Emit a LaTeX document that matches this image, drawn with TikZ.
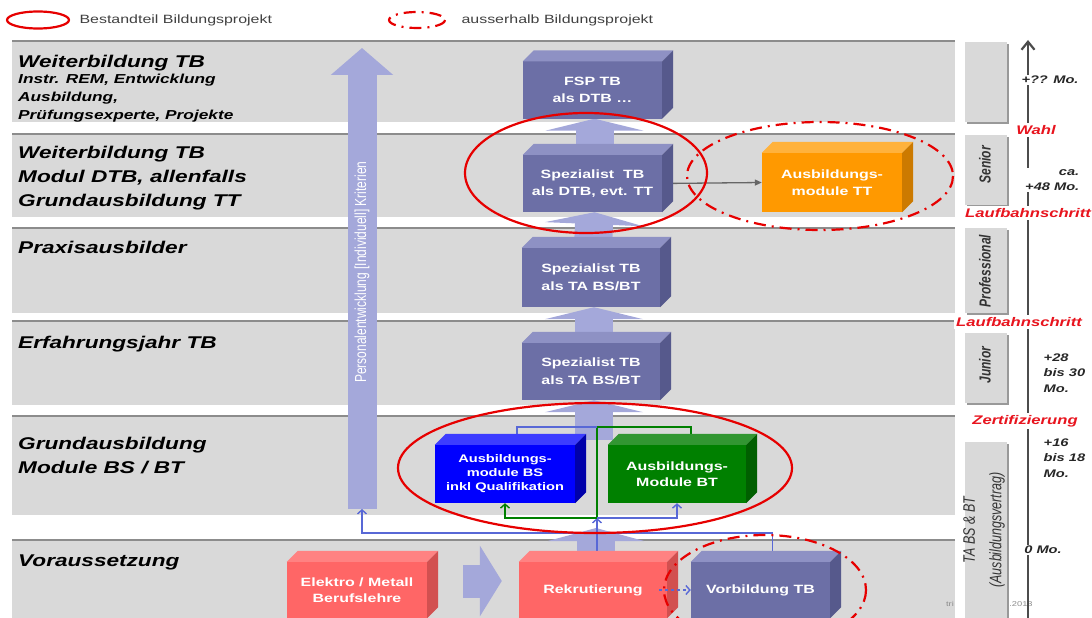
\documentclass[tikz,border=0pt]{standalone}
\usepackage{fontspec}
\setmainfont{Liberation Sans}[FakeStretch=1.33]
\newfontfamily\plainsans{Liberation Sans}
\usepackage{tikz}
\usetikzlibrary{positioning,calc,arrows.meta,shadows}
\definecolor{bandgray}{RGB}{217,217,217}
\definecolor{slatefront}{RGB}{108,111,166}
\definecolor{slatetop}{RGB}{142,145,196}
\definecolor{slateside}{RGB}{86,89,140}
\definecolor{lav}{RGB}{164,168,218}
\definecolor{connblue}{RGB}{88,104,214}
\definecolor{modblue}{RGB}{0,0,255}
\definecolor{modbluetop}{RGB}{60,60,255}
\definecolor{modblueside}{RGB}{0,0,170}
\definecolor{modgreen}{RGB}{0,128,0}
\definecolor{modgreentop}{RGB}{50,150,50}
\definecolor{modgreenside}{RGB}{0,95,0}
\definecolor{ttorange}{RGB}{255,153,0}
\definecolor{ttorangetop}{RGB}{255,178,60}
\definecolor{ttorangeside}{RGB}{204,122,0}
\definecolor{salmon}{RGB}{255,102,102}
\definecolor{salmontop}{RGB}{255,130,130}
\definecolor{salmonside}{RGB}{210,80,80}
\definecolor{ringred}{RGB}{230,0,0}
\definecolor{cuered}{RGB}{232,20,30}
\pgfdeclarelayer{bands}
\pgfdeclarelayer{lifts}
\pgfsetlayers{bands,lifts,main}
% top and side face of a block, 11pt deep
\newcommand{\faces}[3]{%
  \fill[#2] (#1.north west) -- ++(11,-11) -- ($(#1.north east)+(11,-11)$) -- (#1.north east) -- cycle;
  \fill[#3] (#1.north east) -- ++(11,-11) -- ($(#1.south east)+(11,-11)$) -- (#1.south east) -- cycle;}

\begin{document}
\begin{tikzpicture}[
  x=1pt, y=-1pt,
  font=\fontsize{12}{15}\selectfont,
  band/.style={anchor=north west, fill=bandgray, inner sep=0pt, minimum width=943pt,
    drop shadow={shadow xshift=0pt, shadow yshift=1.8pt, fill=black!45, opacity=1}},
  tag/.style={anchor=north west, fill=bandgray, inner sep=0pt, minimum width=42pt,
    drop shadow={shadow xshift=1.5pt, shadow yshift=-1.5pt, fill=black!40, opacity=1}},
  tagtxt/.style={rotate=90, yscale=1.33, transform shape, text=black!80, font=\plainsans\bfseries\itshape\fontsize{12}{14}\selectfont, align=center},
  head/.style={anchor=base west, inner sep=0pt, font=\bfseries\itshape\fontsize{17}{24}\selectfont, align=left},
  cube/.style={inner sep=0pt, minimum height=57pt, minimum width=139pt, text=white, font=\bfseries\fontsize{12}{17.5}\selectfont, align=center},
  lift/.style={draw=lav, line width=38pt, -{Triangle[length=12pt,width=98pt]}},
  link/.style={connblue, line width=1.4pt, -{Straight Barb[length=4pt,width=9pt]}},
  wire/.style={line width=1.4pt},
  ring/.style={draw=ringred, line width=2.2pt},
  outring/.style={ring, dash pattern=on 12pt off 6pt on 2pt off 6pt},
  cue/.style={fill=white, inner sep=2pt, text=cuered, font=\bfseries\itshape\fontsize{12.5}{14}\selectfont},
  span/.style={fill=white, inner sep=1.5pt, text=black!85, font=\bfseries\itshape\fontsize{11}{15.5}\selectfont, align=left},
  legendtxt/.style={anchor=west, text=black!75, font=\fontsize{12}{14}\selectfont},
]
\useasboundingbox (0,0) rectangle (1092,618);
\clip (0,0) rectangle (1092,618);

% ---- legend ----
\draw[ring] (38,20) ellipse [x radius=31, y radius=8.5];
\node[legendtxt] (leg1) at (76,20) {Bestandteil Bildungsprojekt};
\draw[outring] (417,20) ellipse [x radius=28, y radius=8];
\node[legendtxt] (leg2) at (458,20) {ausserhalb Bildungsprojekt};

% ---- rows and stage tags ----
\begin{pgfonlayer}{bands}
\foreach \n/\y/\h in {b1/42/80, b2/135/82, b3/229/84, b4/322/83, b5/417/98, b6/541/80}
  \node[band, minimum height=\h pt] (\n) at (12,\y) {};
\foreach \n/\y/\h in {t1/42/80, t2/135/70, t3/228/85, t4/333/70, t5/442/182}
  \node[tag, minimum height=\h pt] (\n) at (965,\y) {};
\node[text=black!45, font=\fontsize{7}{8}\selectfont] (foot1) at (950,604) {tri};
\node[text=black!45, font=\fontsize{7}{8}\selectfont] (foot2) at (1021,604) {.2013};
\end{pgfonlayer}

% row titles (base = last line)
\node[head] at (18,67) {Weiterbildung TB};
\node[head, font=\bfseries\itshape\fontsize{13}{18}\selectfont] at (18,119) {Instr. REM, Entwicklung\\Ausbildung,\\Prüfungsexperte, Projekte};
\node[head] at (18,206) {Weiterbildung TB\\Modul DTB, allenfalls\\Grundausbildung TT};
\node[head] at (18,253) {Praxisausbilder};
\node[head] at (18,348) {Erfahrungsjahr TB};
\node[head] at (18,473) {Grundausbildung\\Module BS / BT};
\node[head] at (18,566) {Voraussetzung};

\node[tagtxt] at (985,165) {Senior};
\node[tagtxt] at (985,271) {Professional};
\node[tagtxt] at (985,365) {Junior};
\node[tagtxt, font=\plainsans\itshape\fontsize{12.5}{20}\selectfont] at (984,530) {TA BS \& BT\\(Ausbildungsvertrag)};

% ---- blocks ----
\node[cube, fill=slatefront] (fsp) at (592.5,90) {FSP TB\\als DTB \dots};
\faces{fsp}{slatetop}{slateside}
\node[cube, fill=slatefront] (dtb) at (592.5,183.5) {Spezialist\ \ TB\\als DTB, evt. TT};
\faces{dtb}{slatetop}{slateside}
\node[cube, fill=slatefront, minimum width=138pt, minimum height=59pt] (ta2) at (591,277.5) {Spezialist TB\\als TA BS/BT};
\faces{ta2}{slatetop}{slateside}
\node[cube, fill=slatefront, minimum width=138pt] (ta1) at (591,371.5) {Spezialist TB\\als TA BS/BT};
\faces{ta1}{slatetop}{slateside}
\node[cube, fill=modblue, minimum width=140pt, minimum height=58pt, font=\bfseries\fontsize{11}{14}\selectfont] (bs) at (505,474) {Ausbildungs-\\module BS\\inkl Qualifikation};
\faces{bs}{modbluetop}{modblueside}
\node[cube, fill=modgreen, minimum width=138pt, minimum height=58pt, font=\bfseries\fontsize{12}{16}\selectfont] (bt) at (677,474) {Ausbildungs-\\Module BT};
\faces{bt}{modgreentop}{modgreenside}
\node[cube, fill=ttorange, minimum width=140pt, minimum height=59pt] (tt) at (832,182.5) {Ausbildungs-\\module TT};
\faces{tt}{ttorangetop}{ttorangeside}
\node[cube, fill=salmon, minimum width=140pt, minimum height=56pt, font=\bfseries\fontsize{12}{16}\selectfont] (elektro) at (357,590) {Elektro / Metall\\Berufslehre};
\faces{elektro}{salmontop}{salmonside}
\node[cube, fill=salmon, minimum width=148pt, minimum height=56pt] (rek) at (593,590) {Rekrutierung};
\faces{rek}{salmontop}{salmonside}
\node[cube, fill=slatefront, minimum height=56pt] (vor) at (760.5,590) {Vorbildung TB};
\faces{vor}{slatetop}{slateside}

% ---- junction points ----
\coordinate (pe-bot) at (362,509);
\coordinate (pe-top) at (362,48);
\coordinate (pe-in) at (362,533);
\coordinate (jn) at (597,518);
\coordinate (jtop) at (597,427);
\coordinate (mods) at (594,440);
\coordinate (rek-tip) at (596,528);

\begin{pgfonlayer}{lifts}
% personnel development arrow
\draw[lift, line width=29pt, -{Triangle[length=27pt,width=61pt]}] (pe-bot) -- (pe-top);
% step-up arrows
\draw[lift] ([xshift=2pt]dtb.north) -- ([xshift=2pt]fsp.south);
\draw[lift] ([xshift=2pt]ta2.north) -- ([xshift=2pt]dtb.south);
\draw[lift] ([xshift=3pt]ta1.north) -- ([xshift=3pt]ta2.south);
\draw[lift] (mods) -- ([xshift=3pt]ta1.south);
\draw[lift, -{Triangle[length=13pt,width=96pt]}] (rek.north -| rek-tip) -- (rek-tip);
\draw[lift, line width=33pt, -{Triangle[length=22pt,width=70pt]}] ([shift={(36,-9)}]elektro.east) -- ([shift={(-17,-9)}]rek.west);
% connectors
\draw[link] ([xshift=12pt]vor.north) |- (pe-in) -- (pe-bot);
\draw[link] (rek.north -| jn) -- (jn);
\draw[wire, modgreen] (jn) -- (jtop) -| ([xshift=14pt]bt.north);
\draw[wire, connblue] ([xshift=12pt]bs.north) |- (jtop);
\draw[link, modgreen] (jn) -| (bs.south);
\draw[link] (jn) -| (bt.south);
\draw[black!60, line width=1.3pt, -{Triangle[length=7pt,width=6pt]}] (dtb.east) -- (tt.west);
\end{pgfonlayer}

\node[rotate=90, yscale=1.33, transform shape, text=white, font=\plainsans\fontsize{12}{14}\selectfont] (pe) at (362,272) {Personalentwicklung [Individuell] Kriterien};
\draw[link, dashed] ([xshift=-8pt]rek.east) -- (vor.west);

% ---- project rings ----
\draw[ring] (586,173) ellipse [x radius=121, y radius=60];
\draw[outring] (820,176) ellipse [x radius=133, y radius=54];
\draw[ring] (595,468) ellipse [x radius=197, y radius=65];
\draw[outring] (765,590) ellipse [x radius=101, y radius=55];

% ---- time line ----
\coordinate (tl-bot) at (1028,618);
\coordinate (tl-top) at (1028,40);
\draw[black!70, line width=2.2pt, -{Straight Barb[length=8pt,width=13pt]}] (tl-bot) -- (tl-top);
\node[span] at (1050,80) {+?? Mo.};
\node[cue] at (1036,130) {Wahl};
\node[span, anchor=east, align=right] at (1081,180) {ca.\\+48 Mo.};
\node[cue] at (1028,213) {Laufbahnschritt};
\node[cue] at (1019,322) {Laufbahnschritt};
\node[span, fill=none, anchor=north west] at (1042,352) {+28\\bis 30\\Mo.};
\node[cue] at (1025,421) {Zertifizierung};
\node[span, fill=none, anchor=north west] at (1042,437) {+16\\bis 18\\Mo.};
\node[span] at (1043,550) {0 Mo.};
\end{tikzpicture}
\end{document}
